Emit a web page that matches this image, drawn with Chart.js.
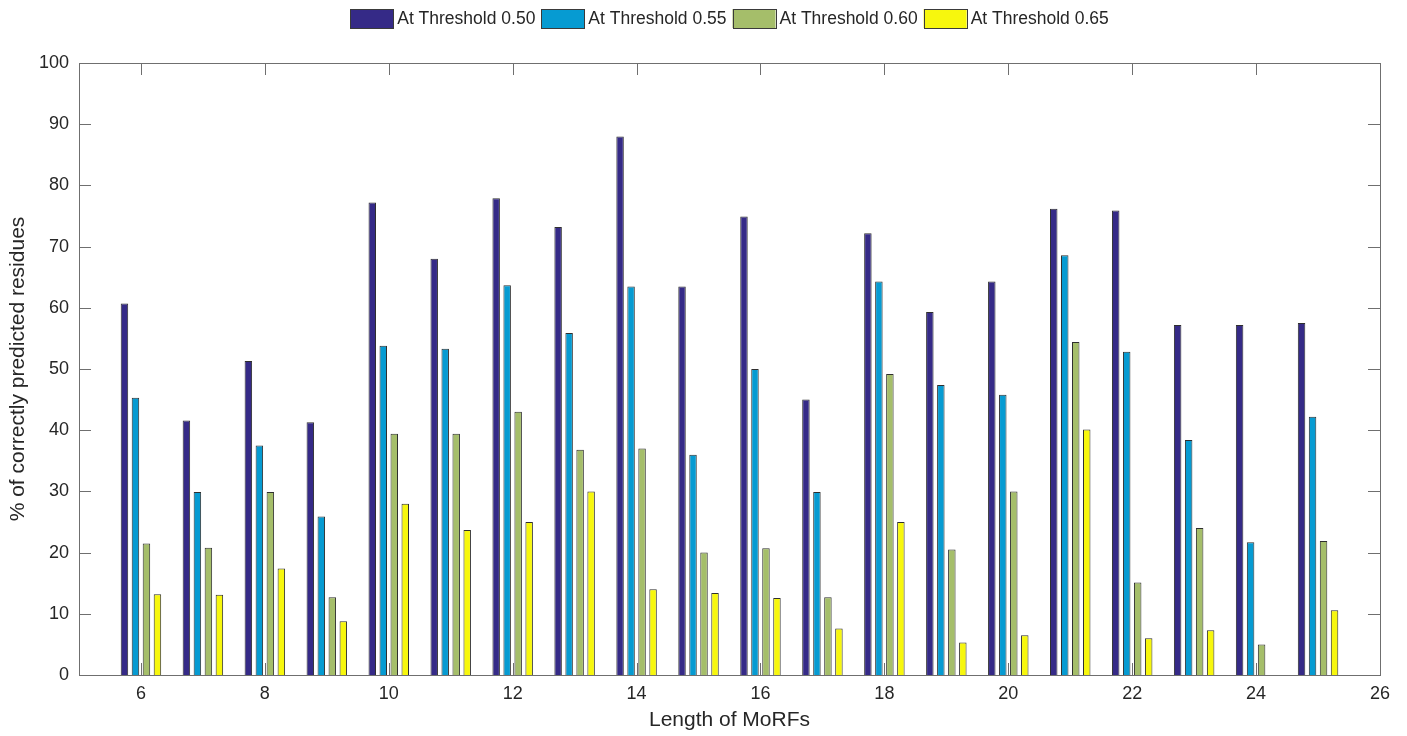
<!DOCTYPE html>
<html>
<head>
<meta charset="utf-8">
<script src="https://cdn.jsdelivr.net/npm/chart.js@4.4.1/dist/chart.umd.min.js"></script>
<style>
    html, body { margin: 0; padding: 0; background: #ffffff; }
    #wrap { width: 1407px; height: 736px; }
</style>
</head>
<body>
<div id="wrap"><canvas id="barChart"></canvas></div>
<script>
const morfLengths = [6, 7, 8, 9, 10, 11, 12, 13, 14, 15, 16, 17, 18, 19, 20, 21, 22, 23, 24, 25];
const xTicks = [6, 8, 10, 12, 14, 16, 18, 20, 22, 24, 26];
const yTicks = [0, 10, 20, 30, 40, 50, 60, 70, 80, 90, 100];

const threshold050 = [60.7, 41.6, 51.3, 41.3, 77.2, 68.0, 77.9, 73.2, 88.0, 63.5, 74.9, 45.0, 72.2, 59.3, 64.3, 76.2, 75.9, 57.2, 57.2, 57.5];
const threshold055 = [45.3, 29.9, 37.5, 25.9, 53.8, 53.3, 63.7, 55.9, 63.5, 36.0, 50.0, 29.9, 64.3, 47.4, 45.8, 68.6, 52.8, 38.4, 21.7, 42.2];
const threshold060 = [21.5, 20.8, 29.9, 12.7, 39.4, 39.4, 43.0, 36.8, 37.0, 20.0, 20.7, 12.7, 49.2, 20.5, 30.0, 54.4, 15.1, 24.0, 5.0, 21.9];
const threshold065 = [13.2, 13.1, 17.4, 8.8, 28.0, 23.7, 25.0, 30.0, 14.0, 13.4, 12.6, 7.6, 25.0, 5.3, 6.5, 40.1, 6.0, 7.3, 0, 10.6];

const seriesLabels = ['At Threshold 0.50', 'At Threshold 0.55', 'At Threshold 0.60', 'At Threshold 0.65'];
const seriesColors = ['#352a87', '#069bd2', '#a5be6a', '#f7f70d'];

const fontFamily = '"Liberation Sans", Arial, Helvetica, sans-serif';
const textColor = '#262626';
const axisColor = '#6f6f6f';

function toPoints(values) {
    return values.map((v, i) => ({ x: morfLengths[i], y: v }));
}

// box around the plot + inward ticks on all four sides (matlab style)
const boxPlugin = {
    id: 'matlabBox',
    afterDatasetsDraw(chart) {
        const { ctx, chartArea: a, scales } = chart;
        const len = 12;
        ctx.save();
        ctx.strokeStyle = axisColor;
        ctx.lineWidth = 1;
        ctx.beginPath();
        xTicks.forEach(t => {
            const px = Math.round(scales.x.getPixelForValue(t)) + 0.5;
            ctx.moveTo(px, a.bottom);
            ctx.lineTo(px, a.bottom - len);
            ctx.moveTo(px, a.top);
            ctx.lineTo(px, a.top + len);
        });
        yTicks.forEach(t => {
            const py = Math.round(scales.y.getPixelForValue(t)) + 0.5;
            ctx.moveTo(a.left, py);
            ctx.lineTo(a.left + len, py);
            ctx.moveTo(a.right, py);
            ctx.lineTo(a.right - len, py);
        });
        ctx.stroke();
        ctx.strokeRect(Math.round(a.left) + 0.5, Math.round(a.top) + 0.5,
            Math.round(a.right - a.left), Math.round(a.bottom - a.top));
        ctx.restore();
    }
};

// horizontal legend above the plot
const legendPlugin = {
    id: 'topLegend',
    afterDraw(chart) {
        const { ctx, chartArea: a } = chart;
        const boxW = 43, boxH = 19, gap = 4, itemGap = 6;
        ctx.save();
        ctx.font = '17.5px ' + fontFamily;
        const items = chart.data.datasets.map(ds => ({
            label: ds.label,
            color: ds.backgroundColor,
            w: boxW + gap + ctx.measureText(ds.label).width
        }));
        const total = items.reduce((s, it) => s + it.w, 0) + itemGap * (items.length - 1);
        let x = (a.left + a.right) / 2 - total / 2;
        const cy = 18.5;
        items.forEach(it => {
            ctx.fillStyle = it.color;
            ctx.fillRect(x, cy - boxH / 2, boxW, boxH);
            ctx.strokeStyle = '#3a3a3a';
            ctx.lineWidth = 1;
            ctx.strokeRect(Math.round(x) + 0.5, Math.round(cy - boxH / 2) + 0.5, boxW, boxH);
            ctx.fillStyle = textColor;
            ctx.textBaseline = 'middle';
            ctx.textAlign = 'left';
            ctx.fillText(it.label, x + boxW + gap, cy + 1);
            x += it.w + itemGap;
        });
        ctx.restore();
    }
};

const ctx = document.getElementById('barChart').getContext('2d');

new Chart(ctx, {
    type: 'bar',
    data: {
        datasets: seriesLabels.map((label, i) => ({
            label: label,
            data: toPoints([threshold050, threshold055, threshold060, threshold065][i]),
            backgroundColor: seriesColors[i],
            borderColor: '#2f2f2f',
            borderWidth: 1,
            borderSkipped: 'start',
            categoryPercentage: 0.71,
            barPercentage: 0.68
        }))
    },
    options: {
        responsive: true,
        maintainAspectRatio: false,
        animation: false,
        layout: {
            padding: { top: 63, right: 27, left: 0, bottom: 0 }
        },
        plugins: {
            legend: { display: false },
            tooltip: { enabled: false }
        },
        scales: {
            x: {
                type: 'linear',
                min: 5,
                max: 26,
                offset: false,
                grid: { display: false, offset: false, drawTicks: false },
                border: { display: false },
                afterBuildTicks: scale => {
                    scale.ticks = xTicks.map(v => ({ value: v }));
                },
                afterFit: scale => { scale.height = 61; },
                ticks: {
                    color: textColor,
                    padding: 8,
                    maxRotation: 0,
                    font: { family: fontFamily, size: 18 }
                },
                title: {
                    display: true,
                    text: 'Length of MoRFs',
                    color: textColor,
                    font: { family: fontFamily, size: 21 },
                    padding: { top: 0, bottom: 3 }
                }
            },
            y: {
                min: 0,
                max: 100,
                grid: { display: false, drawTicks: false },
                border: { display: false },
                afterBuildTicks: scale => {
                    scale.ticks = yTicks.map(v => ({ value: v }));
                },
                afterFit: scale => { scale.width = 79; },
                ticks: {
                    color: textColor,
                    padding: 10,
                    font: { family: fontFamily, size: 18 }
                },
                title: {
                    display: true,
                    text: '% of correctly predicted residues',
                    color: textColor,
                    font: { family: fontFamily, size: 21 },
                    padding: { top: 6, bottom: 0 }
                }
            }
        }
    },
    plugins: [boxPlugin, legendPlugin]
});
</script>
</body>
</html>
